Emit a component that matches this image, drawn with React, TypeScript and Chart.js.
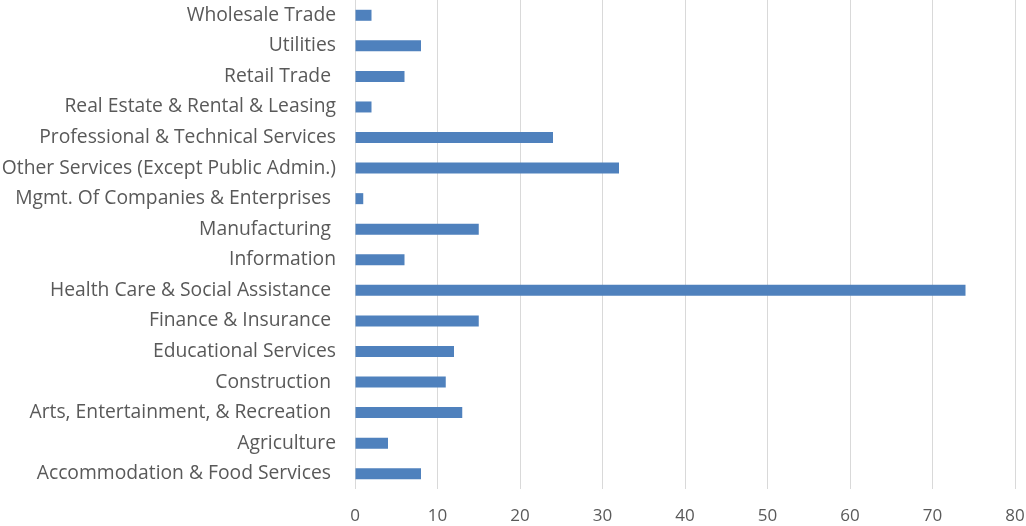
import React, { useEffect, useRef } from "react";
import { Chart, registerables } from "chart.js";

Chart.register(...registerables);

const categories: string[] = [
  "Wholesale Trade",
  "Utilities",
  "Retail Trade ",
  "Real Estate & Rental & Leasing",
  "Professional & Technical Services",
  "Other Services (Except Public Admin.)",
  "Mgmt. Of Companies & Enterprises ",
  "Manufacturing ",
  "Information",
  "Health Care & Social Assistance ",
  "Finance & Insurance ",
  "Educational Services",
  "Construction ",
  "Arts, Entertainment, & Recreation ",
  "Agriculture",
  "Accommodation & Food Services ",
];

const values: number[] = [2, 8, 6, 2, 24, 32, 1, 15, 6, 74, 15, 12, 11, 13, 4, 8];

const xMin = 0;
const xMax = 80;
const xStep = 10;

const FONT_FAMILY = "'Open Sans', 'DejaVu Sans', sans-serif";
const TEXT_COLOR = "#595959";
const BAR_COLOR = "#4f81bd";
const GRID_COLOR = "#d9d9d9";

function zeroPad(scale: any) {
  scale.paddingTop = 0;
  scale.paddingBottom = 0;
  scale.paddingLeft = 0;
  scale.paddingRight = 0;
}

export default function App() {
  const ref = useRef<HTMLCanvasElement | null>(null);

  useEffect(() => {
    if (!ref.current) return;
    const chart = new Chart(ref.current, {
      type: "bar",
      data: {
        labels: categories,
        datasets: [
          {
            data: values,
            backgroundColor: BAR_COLOR,
            borderWidth: 0,
            categoryPercentage: 1,
            barPercentage: 0.36,
          },
        ],
      },
      options: {
        indexAxis: "y",
        responsive: false,
        animation: false,
        maintainAspectRatio: false,
        layout: { padding: { top: 0, left: 0, right: 11, bottom: 0 } },
        plugins: {
          legend: { display: false },
          tooltip: { enabled: false },
        },
        scales: {
          x: {
            min: xMin,
            max: xMax,
            ticks: {
              stepSize: xStep,
              color: TEXT_COLOR,
              font: { family: FONT_FAMILY, size: 17 },
              padding: 17,
            },
            grid: {
              color: GRID_COLOR,
              lineWidth: 1,
              drawTicks: false,
            },
            border: { display: false },
            afterFit: (scale: any) => {
              scale.height = 37;
              zeroPad(scale);
            },
          },
          y: {
            ticks: {
              color: TEXT_COLOR,
              font: { family: FONT_FAMILY, size: 19.3 },
              padding: 19,
              autoSkip: false,
            },
            grid: { display: false, drawTicks: false },
            border: { display: false },
            afterFit: (scale: any) => {
              scale.width = 355;
              zeroPad(scale);
            },
          },
        },
      },
    });
    return () => chart.destroy();
  }, []);

  return (
    <div style={{ position: "fixed", left: 0, top: 0, width: 1026, height: 526, background: "#fff" }}>
      <canvas ref={ref} width={1026} height={526} style={{ display: "block", width: 1026, height: 526 }} />
    </div>
  );
}
